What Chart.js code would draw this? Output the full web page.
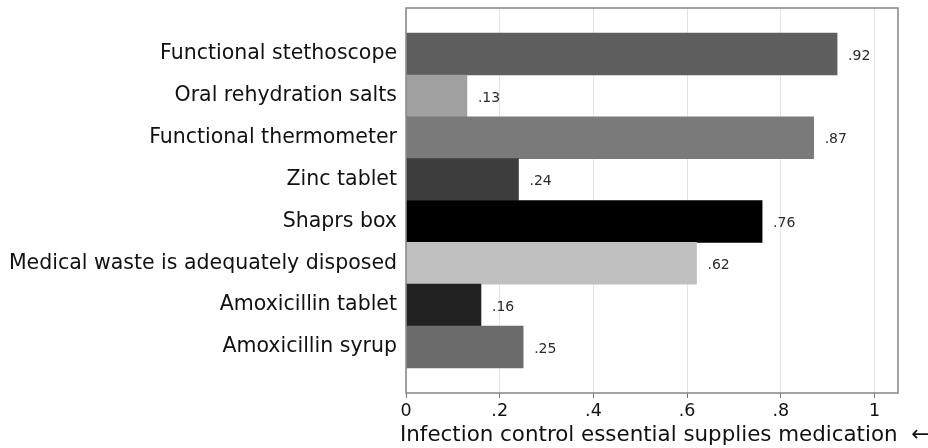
<!DOCTYPE html>
<html>
<head>
<meta charset="utf-8">
<script src="https://cdn.jsdelivr.net/npm/chart.js@4/dist/chart.umd.min.js"></script>
<style>
  html, body { margin: 0; padding: 0; background: #ffffff; }
  canvas { display: block; }
</style>
</head>
<body>
<canvas id="c" width="928" height="448"></canvas>
<script>
// ---- data (top to bottom) ----
const categories = [
  "Functional stethoscope",
  "Oral rehydration salts",
  "Functional thermometer",
  "Zinc tablet",
  "Shaprs box",
  "Medical waste is adequately disposed",
  "Amoxicillin tablet",
  "Amoxicillin syrup"
];
const values = [0.92, 0.13, 0.87, 0.24, 0.76, 0.62, 0.16, 0.25];
const xTickValues = [0, 0.2, 0.4, 0.6, 0.8, 1];
const xTickLabels = ["0", ".2", ".4", ".6", ".8", "1"];
const axisTitle = "Infection control essential supplies medication  \u2190";

// ---- styles ----
const barColors = ["#5e5e5e", "#a0a0a0", "#7a7a7a", "#3d3d3d", "#000000", "#c0c0c0", "#222222", "#6b6b6b"];
const FONT = "'DejaVu Sans', 'Liberation Sans', Arial, sans-serif";

const points = values.map((v, i) => ({ x: v, y: i }));

const framePlugin = {
  id: 'frame',
  afterDraw(chart) {
    const { ctx, chartArea: a } = chart;
    ctx.save();
    ctx.strokeStyle = '#858585';
    ctx.lineWidth = 1.5;
    ctx.strokeRect(a.left, a.top, a.right - a.left, a.bottom - a.top);
    ctx.restore();
  }
};

// x-axis title drawn without width compression (it is wider than the plot in the reference)
const axisTitlePlugin = {
  id: 'axisTitle',
  afterDraw(chart) {
    const { ctx, chartArea: a } = chart;
    ctx.save();
    ctx.font = "21.4px " + FONT;
    ctx.fillStyle = '#111111';
    ctx.textAlign = 'left';
    ctx.textBaseline = 'middle';
    ctx.fillText(axisTitle, a.left - 6, chart.height - 13);
    ctx.restore();
  }
};

const valueLabelPlugin = {
  id: 'valueLabels',
  afterDatasetsDraw(chart) {
    const { ctx } = chart;
    const meta = chart.getDatasetMeta(0);
    ctx.save();
    ctx.font = "14px " + FONT;
    ctx.fillStyle = '#2a2a2a';
    ctx.textAlign = 'left';
    ctx.textBaseline = 'middle';
    meta.data.forEach((bar, i) => {
      const txt = values[i].toFixed(2).replace(/^0/, '');
      ctx.fillText(txt, bar.x + 11, bar.y + 2);
    });
    ctx.restore();
  }
};

new Chart(document.getElementById('c'), {
  type: 'bar',
  data: {
    datasets: [{
      data: points,
      backgroundColor: barColors,
      borderWidth: 0,
      barPercentage: 1,
      categoryPercentage: 1
    }]
  },
  options: {
    indexAxis: 'y',
    responsive: false,
    animation: false,
    layout: { padding: { top: 8, right: 30, left: 0, bottom: 0 } },
    plugins: { legend: { display: false }, tooltip: { enabled: false } },
    scales: {
      y: {
        type: 'linear',
        reverse: true,
        offset: false,
        min: -1.1,
        max: categories.length - 1 + 1.1,
        afterBuildTicks(scale) {
          scale.ticks = categories.map((c, i) => ({ value: i }));
        },
        afterFit(scale) {
          scale.width = 406;
          scale.paddingTop = 0;
          scale.paddingBottom = 0;
        },
        grid: { display: false, drawTicks: false, offset: false },
        border: { display: false },
        ticks: {
          padding: 9,
          color: '#111111',
          font: { family: FONT, size: 20.5 },
          callback: (v) => categories[v] ?? ''
        }
      },
      x: {
        type: 'linear',
        min: 0,
        max: 1.05,
        afterBuildTicks(scale) {
          scale.ticks = xTickValues.map(v => ({ value: v }));
        },
        afterFit(scale) {
          scale.height = 55;
          scale.paddingLeft = 0;
          scale.paddingRight = 0;
        },
        grid: {
          color: '#e4e4e4',
          lineWidth: 1,
          tickLength: 5,
          tickColor: '#777777',
          drawOnChartArea: true
        },
        border: { display: false },
        ticks: {
          padding: 3,
          maxRotation: 0,
          autoSkip: false,
          color: '#111111',
          font: { family: FONT, size: 17.5 },
          callback: (v) => {
            const idx = xTickValues.findIndex(t => Math.abs(t - v) < 1e-9);
            return idx >= 0 ? xTickLabels[idx] : '';
          }
        },
        title: { display: false }
      }
    }
  },
  plugins: [framePlugin, valueLabelPlugin, axisTitlePlugin]
});
</script>
</body>
</html>
